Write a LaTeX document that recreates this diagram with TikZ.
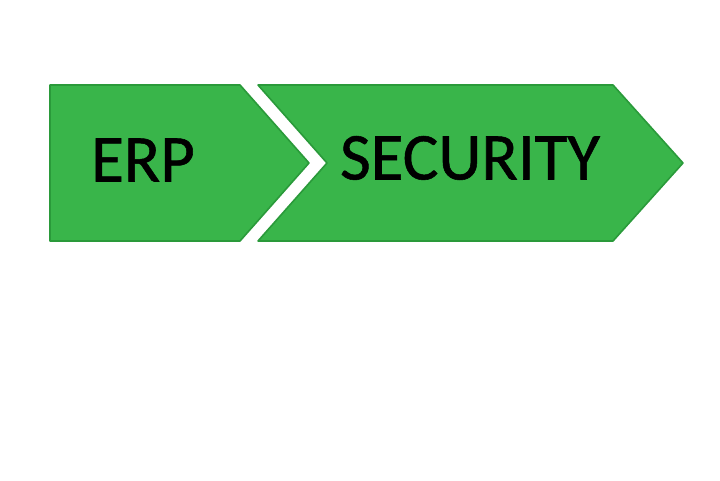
\documentclass[tikz,border=0pt]{standalone}
\usepackage{fontspec}
\setmainfont{Carlito}[FakeBold=0.8]
\usepackage{tikz}
\usetikzlibrary{positioning}
\definecolor{ArrowGreen}{HTML}{39B54A}
\definecolor{EdgeGreen}{HTML}{2A9A3A}

\begin{document}
\begin{tikzpicture}[x=1pt, y=-1pt,
    arrowbox/.style={fill=ArrowGreen, draw=EdgeGreen, line width=1.6pt, line join=round},
    arrowtext/.style={font=\fontsize{67}{67}\selectfont, text=black, inner sep=0pt}]
  \useasboundingbox (0,0) rectangle (720,480);
  % first arrow: plain left side
  \draw[arrowbox] (50,85) -- (240,85) -- (309,163) -- (240,241) -- (50,241) -- cycle;
  % second arrow: notched left side
  \draw[arrowbox] (258,85) -- (613,85) -- (683,163) -- (613,241) -- (258,241) -- (327,163) -- cycle;
  \node[arrowtext] (erp) at (143,160) {ERP};
  \node[arrowtext] (security) at (470,158) {SECURITY};
\end{tikzpicture}
\end{document}
